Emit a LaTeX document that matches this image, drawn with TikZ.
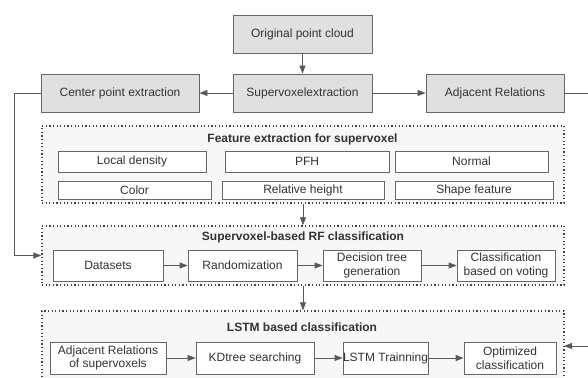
\documentclass[tikz,border=0pt]{standalone}
\usepackage{fontspec}
\setmainfont{Liberation Sans}
\usetikzlibrary{arrows.meta}

\begin{document}
\begin{tikzpicture}[x=1pt, y=-1pt,
    font=\fontsize{12}{13.5}\selectfont, text=black!80,
    >={Triangle[length=8pt,width=6pt]},
    line/.style={draw=black!65, line width=0.8pt},
    graybox/.style={draw=black!60, line width=0.8pt, fill=black!12, inner sep=0pt, minimum height=38pt},
    frame/.style={draw=black!75, line width=1.4pt, dash pattern=on 1.2pt off 2.4pt, fill=black!3, inner sep=0pt},
    whitebox/.style={draw=black!60, line width=0.8pt, fill=white, inner sep=0pt, align=center},
    title/.style={font=\fontsize{12}{13.5}\selectfont\bfseries}]
    \useasboundingbox (0,0) rectangle (588,377);
    \clip (0,0) rectangle (588,377);

    % top row
    \node[graybox, minimum width=139pt] (orig) at (302.5,34) {Original point cloud};
    \node[graybox, minimum width=139pt] (super) at (302.5,93) {Supervoxelextraction};
    \node[graybox, minimum width=158pt] (center) at (120,93) {Center point extraction};
    \node[graybox, minimum width=138pt] (adj) at (495,93) {Adjacent Relations};

    % feature extraction
    \node[frame, minimum width=522pt, minimum height=77pt] (feat) at (303,164.5) {};
    \node[title] (feattitle) at (302.5,139) {Feature extraction for supervoxel};
    \node[whitebox, minimum width=148pt, minimum height=21pt] (dens) at (132,161.5) {Local density};
    \node[whitebox, minimum width=164pt, minimum height=21pt] (pfh) at (307,161.5) {PFH};
    \node[whitebox, minimum width=153pt, minimum height=21pt] (normal) at (471.5,161.5) {Normal};
    \node[whitebox, minimum width=153pt, minimum height=18pt] (color) at (134.5,190) {Color};
    \node[whitebox, minimum width=162pt, minimum height=18pt] (relh) at (303,190) {Relative height};
    \node[whitebox, minimum width=158pt, minimum height=18pt] (shape) at (474,190) {Shape feature};

    % RF classification
    \node[frame, minimum width=522pt, minimum height=59pt] (rf) at (303,255.5) {};
    \node[title] (rftitle) at (303,237) {Supervoxel-based RF classification};
    \node[whitebox, minimum width=110pt, minimum height=31pt] (data) at (108,265.5) {Datasets};
    \node[whitebox, minimum width=109pt, minimum height=31pt] (rand) at (242.5,265.5) {Randomization};
    \node[whitebox, minimum width=98pt, minimum height=31pt] (dtree) at (372,265.5) {Decision tree\\generation};
    \node[whitebox, minimum width=98pt, minimum height=31pt] (vote) at (506,265.5) {Classification\\based on voting};

    % LSTM classification
    \node[frame, minimum width=522pt, minimum height=90pt] (lstm) at (303,356) {};
    \node[title] (lstmtitle) at (302,327) {LSTM based classification};
    \node[whitebox, minimum width=116pt, minimum height=32pt] (adjrel) at (108,358) {Adjacent Relations\\of supervoxels};
    \node[whitebox, minimum width=118pt, minimum height=32pt] (kd) at (255,358) {KDtree searching};
    \node[whitebox, minimum width=85pt, minimum height=32pt] (train) at (385.5,358) {LSTM Trainning};
    \node[whitebox, minimum width=92pt, minimum height=32pt] (opt) at (510,358) {Optimized\\classification};
    \coordinate (lstmin) at (564,346);

    % connectors
    \draw[line, ->] (orig) -- (super);
    \draw[line, ->] (super) -- (center);
    \draw[line, ->] (super) -- (adj);
    \draw[line, ->] (adj.east) -- ++(30,0) |- (lstmin);
    \draw[line, ->] (center.west) -- ++(-26,0) |- (rf.west);
    \draw[line, ->] (feat) -- (rf);
    \draw[line, ->] (rf) -- (lstm);
    \draw[line, ->] (data) -- (rand);
    \draw[line, ->] (rand) -- (dtree);
    \draw[line, ->] (dtree) -- (vote);
    \draw[line, ->] (adjrel) -- (kd);
    \draw[line, ->] (kd) -- (train);
    \draw[line, ->] (train) -- (opt);
\end{tikzpicture}
\end{document}
